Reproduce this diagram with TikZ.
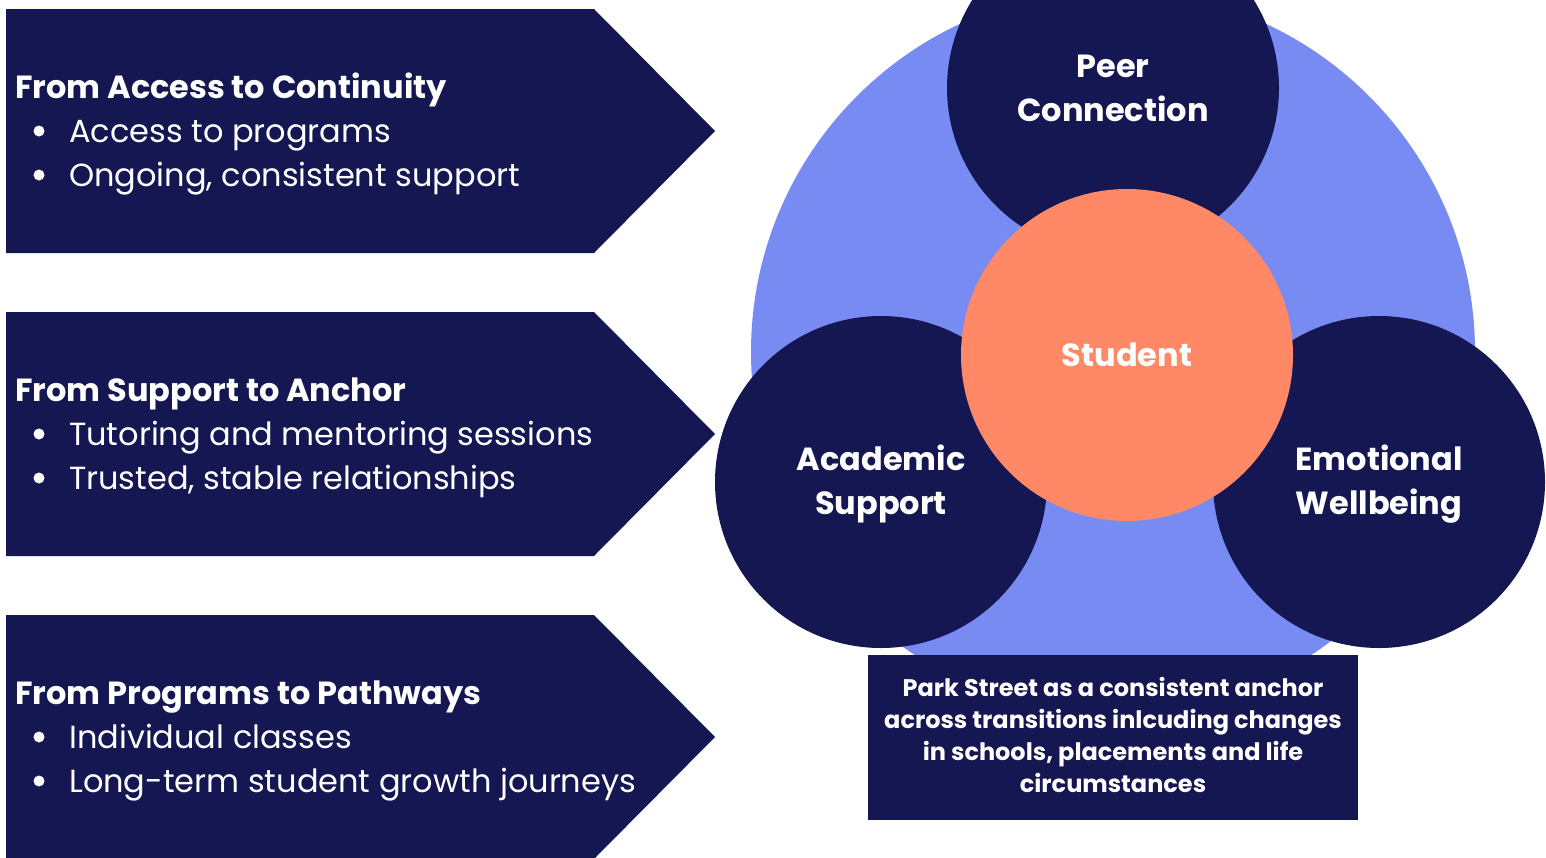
\documentclass[tikz,border=0pt]{standalone}
\usepackage{fontspec}
\setmainfont{Poppins}
\definecolor{navy}{RGB}{20,23,82}
\definecolor{lblue}{RGB}{120,139,242}
\definecolor{coral}{RGB}{255,136,102}
\begin{document}
\begin{tikzpicture}[x=1pt,y=-1pt,
  banner/.style={fill=navy},
  head/.style={anchor=base west,inner sep=0,text=white,font=\fontsize{32}{38}\selectfont\bfseries},
  item/.style={anchor=base west,inner sep=0,text=white,font=\fontsize{32}{38}\selectfont},
  bul/.style={circle,fill=white,inner sep=0,minimum size=11},
  circ/.style={circle,minimum size=332,inner sep=0},
  clabel/.style={anchor=base,inner sep=0,text=white,font=\fontsize{32}{38}\selectfont\bfseries},
  note/.style={anchor=base,inner sep=0,text=white,font=\fontsize{24}{28}\selectfont\bfseries}]
\useasboundingbox (0,0) rectangle (1546,857);
\clip (0,0) rectangle (1546,857);
\fill[white] (0,0) rectangle (1546,857);
% banners
\fill[banner] (6,9) -- (594,9) -- (715,131) -- (594,253) -- (6,253) -- cycle;
\fill[banner] (6,312) -- (594,312) -- (715,434) -- (594,556) -- (6,556) -- cycle;
\fill[banner] (6,615) -- (594,615) -- (715,737) -- (594,859) -- (6,859) -- cycle;
% banner 1
\node[head] (h1) at (15,98) {From Access to Continuity};
\node[bul] (b11) at (39,131) {};
\node[item] (t11) at (69,142) {Access to programs};
\node[bul] (b12) at (39,175) {};
\node[item] (t12) at (69,186) {Ongoing, consistent support};
% banner 2
\node[head] (h2) at (15,401) {From Support to Anchor};
\node[bul] (b21) at (39,434) {};
\node[item] (t21) at (69,445) {Tutoring and mentoring sessions};
\node[bul] (b22) at (39,478) {};
\node[item] (t22) at (69,489) {Trusted, stable relationships};
% banner 3
\node[head] (h3) at (15,704) {From Programs to Pathways};
\node[bul] (b31) at (39,737) {};
\node[item] (t31) at (69,748) {Individual classes};
\node[bul] (b32) at (39,781) {};
\node[item] (t32) at (69,792) {Long-term student growth journeys};
% circles
\fill[lblue] (1113,352) circle (362);
\node[circ,fill=navy] (peer) at (1113,88) {};
\node[circ,fill=navy] (acad) at (881,482) {};
\node[circ,fill=navy] (emo) at (1379,482) {};
\node[circ,fill=coral] (stud) at (1127,355) {};
\node[clabel] (peer1) at (1113,77) {Peer};
\node[clabel] (peer2) at (1113,121) {Connection};
\node[clabel] (acad1) at (881,470) {Academic};
\node[clabel] (acad2) at (881,514) {Support};
\node[clabel] (emo1) at (1379,470) {Emotional};
\node[clabel] (emo2) at (1379,514) {Wellbeing};
\node[clabel] (stud1) at (1127,366) {Student};
% note box
\node[fill=navy,minimum width=490,minimum height=165,inner sep=0,anchor=north west] (box) at (868,655) {};
\node[note] (n1) at (1113,696) {Park Street as a consistent anchor};
\node[note] (n2) at (1113,728) {across transitions inlcuding changes};
\node[note] (n3) at (1113,760) {in schools, placements and life};
\node[note] (n4) at (1113,792) {circumstances};
\end{tikzpicture}
\end{document}
